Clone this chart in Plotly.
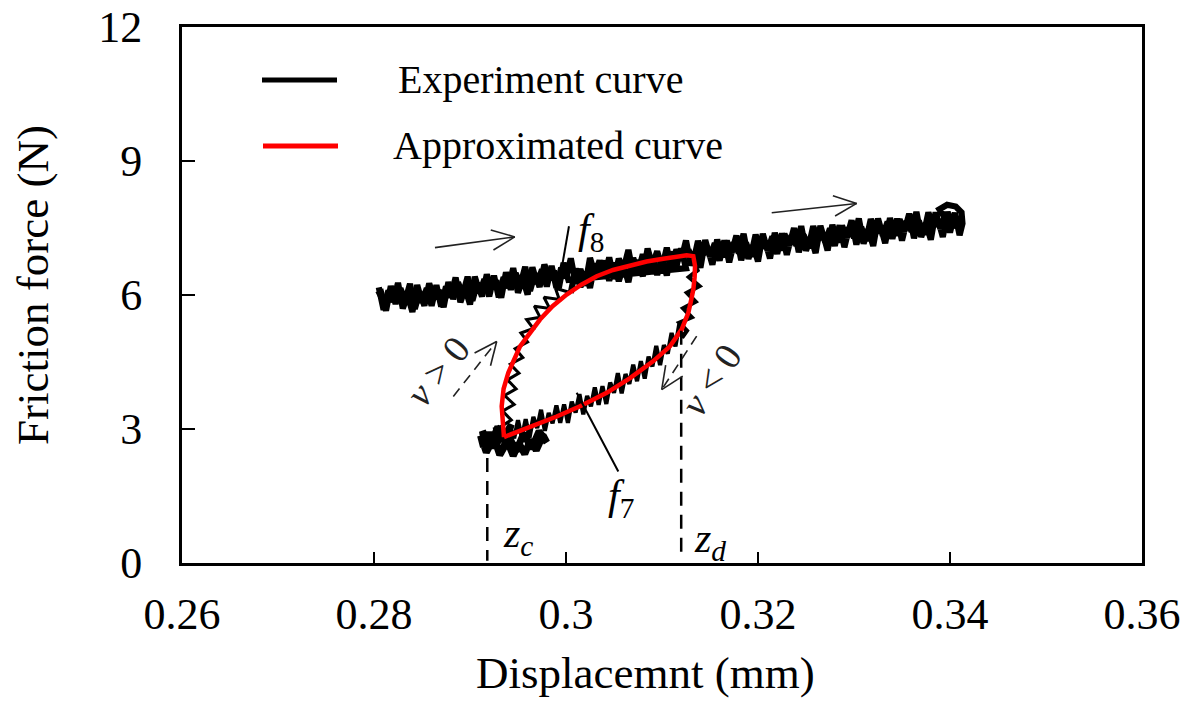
import math
import plotly.graph_objects as go

# ---------------- data ----------------
x_tick_vals = [0.26, 0.28, 0.30, 0.32, 0.34, 0.36]
x_tick_text = ["0.26", "0.28", "0.3", "0.32", "0.34", "0.36"]
y_tick_vals = [0, 3, 6, 9, 12]
y_tick_text = ["0", "3", "6", "9", "12"]

# experiment curve: upper band, outward pass (left -> right)
band_out_x = [0.2805, 0.2810, 0.2815, 0.2820, 0.2825, 0.2830, 0.2835, 0.2840, 0.2845, 0.2850, 0.2855, 0.2860,
              0.2865, 0.2870, 0.2875, 0.2880, 0.2885, 0.2890, 0.2895, 0.2900, 0.2905, 0.2910, 0.2915, 0.2920,
              0.2925, 0.2930, 0.2935, 0.2940, 0.2945, 0.2950, 0.2955, 0.2960, 0.2965, 0.2970, 0.2975, 0.2980,
              0.2985, 0.2990, 0.2995, 0.3000, 0.3005, 0.3010, 0.3015, 0.3020, 0.3025, 0.3030, 0.3035, 0.3040,
              0.3045, 0.3050, 0.3055, 0.3060, 0.3065, 0.3070, 0.3075, 0.3080, 0.3085, 0.3090, 0.3095, 0.3100,
              0.3105, 0.3110, 0.3115, 0.3120, 0.3125, 0.3130, 0.3135, 0.3140, 0.3145, 0.3150, 0.3155, 0.3160,
              0.3165, 0.3170, 0.3175, 0.3180, 0.3185, 0.3190, 0.3195, 0.3200, 0.3205, 0.3210, 0.3215, 0.3220,
              0.3225, 0.3230, 0.3235, 0.3240, 0.3245, 0.3250, 0.3255, 0.3260, 0.3265, 0.3270, 0.3275, 0.3280,
              0.3285, 0.3290, 0.3295, 0.3300, 0.3305, 0.3310, 0.3315, 0.3320, 0.3325, 0.3330, 0.3335, 0.3340,
              0.3345, 0.3350, 0.3355, 0.3360, 0.3365, 0.3370, 0.3375, 0.3380, 0.3385, 0.3390, 0.3395, 0.3400,
              0.3405, 0.3410]
band_out_y = [6.17, 5.67, 6.10, 5.85, 6.27, 5.70, 6.00, 5.62, 6.22, 5.83, 6.15, 5.76,
              6.22, 5.74, 6.19, 5.95, 6.39, 5.84, 6.15, 5.79, 6.41, 6.04, 6.35, 5.97,
              6.43, 5.95, 6.40, 6.16, 6.60, 6.05, 6.37, 6.01, 6.62, 6.25, 6.57, 6.19,
              6.65, 6.16, 6.61, 6.38, 6.82, 6.26, 6.58, 6.21, 6.83, 6.46, 6.77, 6.39,
              6.84, 6.36, 6.81, 6.58, 7.01, 6.46, 6.78, 6.42, 7.04, 6.66, 6.98, 6.60,
              7.06, 6.57, 7.02, 6.78, 7.22, 6.66, 6.98, 6.61, 7.23, 6.85, 7.16, 6.77,
              7.22, 6.73, 7.18, 6.94, 7.37, 6.81, 7.12, 6.75, 7.37, 6.99, 7.31, 6.92,
              7.38, 6.90, 7.34, 7.11, 7.54, 6.99, 7.30, 6.94, 7.55, 7.18, 7.49, 7.10,
              7.56, 7.07, 7.52, 7.28, 7.71, 7.15, 7.47, 7.10, 7.71, 7.33, 7.64, 7.26,
              7.71, 7.22, 7.66, 7.42, 7.86, 7.30, 7.61, 7.24, 7.85, 7.48, 7.79, 7.40,
              7.84, 7.34]

# small loop at the right end
end_x = [0.3413, 0.3412, 0.3406, 0.3397, 0.3389]
end_y = [7.60, 7.85, 7.98, 8.02, 7.92]

# upper band, return pass (right -> loop top)
band_back_x = [0.34025, 0.33975, 0.33925, 0.33875, 0.33825, 0.33775, 0.33725, 0.33675, 0.33625, 0.33575, 0.33525, 0.33475,
               0.33425, 0.33375, 0.33325, 0.33275, 0.33225, 0.33175, 0.33125, 0.33075, 0.33025, 0.32975, 0.32925, 0.32875,
               0.32825, 0.32775, 0.32725, 0.32675, 0.32625, 0.32575, 0.32525, 0.32475, 0.32425, 0.32375, 0.32325, 0.32275,
               0.32225, 0.32175, 0.32125, 0.32075, 0.32025, 0.31975, 0.31925, 0.31875, 0.31825, 0.31775, 0.31725, 0.31675,
               0.31625, 0.31575, 0.31525, 0.31475, 0.31425, 0.31375, 0.31325, 0.31275]
band_back_y = [7.47, 7.86, 7.30, 7.69, 7.53, 7.85, 7.35, 7.66, 7.27, 7.82, 7.43, 7.69,
               7.33, 7.72, 7.16, 7.55, 7.38, 7.70, 7.21, 7.52, 7.13, 7.67, 7.28, 7.55,
               7.18, 7.57, 7.00, 7.39, 7.23, 7.54, 7.05, 7.35, 6.96, 7.50, 7.10, 7.37,
               7.00, 7.39, 6.82, 7.20, 7.04, 7.35, 6.86, 7.17, 6.78, 7.33, 6.94, 7.21,
               6.85, 7.24, 6.68, 7.06, 6.90, 7.21, 6.72, 7.02]

# right side of the hysteresis loop (going down)
loop_right_x = [0.31275, 0.3130, 0.3137, 0.3128, 0.3139, 0.3126, 0.3135, 0.3122, 0.3131, 0.3118, 0.3126, 0.3121]
loop_right_y = [7.02, 6.85, 6.55, 6.40, 6.20, 6.05, 5.85, 5.70, 5.50, 5.38, 5.20, 5.05]

# lower branch (f7 side)
lower_x = [0.3118, 0.3114, 0.3110, 0.3106, 0.3102, 0.3098, 0.3094, 0.3090, 0.3086, 0.3082,
           0.3078, 0.3074, 0.3070, 0.3066, 0.3062, 0.3058, 0.3054, 0.3050, 0.3046, 0.3042,
           0.3038, 0.3034, 0.3030, 0.3026, 0.3022, 0.3018, 0.3014, 0.3010, 0.3006, 0.3002,
           0.2998, 0.2994, 0.2990, 0.2986, 0.2982, 0.2978, 0.2974, 0.2970, 0.2966, 0.2962,
           0.2958, 0.2954, 0.2950, 0.2946, 0.2942, 0.2938]
lower_y = [5.35, 4.85, 5.15, 4.69, 4.88, 4.43, 4.86, 4.40, 4.62, 4.13,
           4.52, 4.07, 4.44, 4.01, 4.23, 3.80, 4.25, 3.81, 4.04, 3.56,
           3.96, 3.54, 3.93, 3.51, 3.74, 3.33, 3.78, 3.37, 3.61, 3.14,
           3.55, 3.14, 3.53, 3.13, 3.36, 2.96, 3.43, 3.02, 3.27, 2.81,
           3.22, 2.80, 3.20, 2.79, 3.03, 2.62]

# dense blob at the reversal point z_c
blob_x = [0.2938, 0.2934, 0.2926, 0.2920, 0.2914, 0.2911, 0.2917, 0.2925, 0.2931, 0.2939, 0.2945, 0.2951,
          0.2957, 0.2963, 0.2969, 0.2976, 0.2980, 0.2972, 0.2964, 0.2956, 0.2948, 0.2940, 0.2932, 0.2924,
          0.2916, 0.2913, 0.2921, 0.2929, 0.2937, 0.2943, 0.2935, 0.2927, 0.2930]
blob_y = [2.62, 2.95, 2.58, 2.92, 2.60, 2.85, 2.48, 2.80, 2.42, 2.72, 2.40, 2.68,
          2.44, 2.76, 2.52, 2.86, 2.70, 2.95, 2.56, 2.90, 2.50, 2.86, 2.45, 2.80,
          2.55, 2.95, 2.62, 3.05, 2.70, 3.10, 2.80, 3.05, 2.85]

# left / upper branch (f8 side, going up)
left_x = [0.2930, 0.2932, 0.2943, 0.2934, 0.2946, 0.2936, 0.2948, 0.2939, 0.2951, 0.2942, 0.2955, 0.2947,
          0.2960, 0.2953, 0.2966, 0.2959, 0.2973, 0.2967, 0.2983, 0.2977, 0.2993, 0.2989, 0.3005]
left_y = [2.85, 3.05, 3.20, 3.40, 3.55, 3.75, 3.90, 4.10, 4.25, 4.45, 4.60, 4.80,
          4.95, 5.15, 5.25, 5.45, 5.50, 5.75, 5.70, 5.95, 5.90, 6.15, 6.05]

# lower edge of the band between loop branches
seg_a_x = [0.3005, 0.3010, 0.3015, 0.3020, 0.3025, 0.3030, 0.3035, 0.3040, 0.3045, 0.3050, 0.3055, 0.3060, 0.3065,
           0.3070, 0.3075, 0.3080, 0.3085, 0.3090, 0.3095, 0.3100, 0.3105, 0.3110, 0.3115, 0.3120, 0.3125]
seg_a_y = [6.05, 6.59, 6.18, 6.52, 6.16, 6.70, 6.37, 6.77, 6.32, 6.72, 6.31, 6.66, 6.29,
           6.83, 6.51, 6.91, 6.47, 6.86, 6.45, 6.80, 6.44, 6.97, 6.65, 7.04, 6.60]

# upper band, second pass on the left part (right -> left)
band_left_x = [0.30025, 0.29975, 0.29925, 0.29875, 0.29825, 0.29775, 0.29725, 0.29675, 0.29625, 0.29575,
               0.29525, 0.29475, 0.29425, 0.29375, 0.29325, 0.29275, 0.29225, 0.29175, 0.29125, 0.29075,
               0.29025, 0.28975, 0.28925, 0.28875, 0.28825, 0.28775, 0.28725, 0.28675, 0.28625, 0.28575,
               0.28525, 0.28475, 0.28425, 0.28375, 0.28325, 0.28275, 0.28225, 0.28175, 0.28125, 0.28075, 0.2803]
band_left_y = [6.34, 6.72, 6.15, 6.54, 6.37, 6.68, 6.18, 6.48, 6.09, 6.63,
               6.23, 6.49, 6.12, 6.51, 5.94, 6.32, 6.15, 6.46, 5.97, 6.27,
               5.87, 6.41, 6.01, 6.28, 5.91, 6.29, 5.73, 6.11, 5.94, 6.26,
               5.76, 6.07, 5.69, 6.25, 5.87, 6.15, 5.80, 6.20, 5.65, 6.05, 6.00]

# approximated (model) hysteresis curve
approx_x = [0.29354, 0.29335, 0.29330, 0.29350, 0.29399, 0.29521, 0.29620, 0.29729, 0.29860, 0.30007,
            0.30160, 0.30320, 0.30490, 0.30667, 0.30840, 0.31014, 0.31150, 0.31257, 0.31326, 0.31344,
            0.31340, 0.31326, 0.31300, 0.31274, 0.31205, 0.31083, 0.30910, 0.30667, 0.30424, 0.30146,
            0.29903, 0.29625, 0.29354]
approx_y = [2.82, 3.20, 3.51, 3.90, 4.26, 4.85, 5.15, 5.45, 5.75, 6.01,
            6.23, 6.42, 6.56, 6.66, 6.75, 6.81, 6.86, 6.89, 6.87, 6.65,
            6.40, 6.12, 5.85, 5.60, 5.23, 4.85, 4.52, 4.14, 3.81, 3.51,
            3.28, 3.06, 2.82]

# reversal displacements
z_c = 0.2918
z_d = 0.3120

# ---------------- layout constants ----------------
W, H = 1200, 702
ML, MR, MT, MB = 182, 58, 27, 139
X_RANGE = [0.26, 0.36]
Y_RANGE = [0, 12]
PW, PH = W - ML - MR, H - MT - MB
PX_PER_X = PW / (X_RANGE[1] - X_RANGE[0])
PX_PER_Y = PH / (Y_RANGE[1] - Y_RANGE[0])
FONT = "Liberation Serif, Times New Roman, serif"

fig = go.Figure()

# experiment curve, drawn piece by piece (dense band parts heavier than loop parts)
exp_pieces = [
    (band_out_x + end_x + band_back_x, band_out_y + end_y + band_back_y, 6.2),
    (loop_right_x + lower_x, loop_right_y + lower_y, 4.2),
    (blob_x, blob_y, 7.0),
    (left_x, left_y, 3.0),
    (seg_a_x + band_left_x, seg_a_y + band_left_y, 6.2),
]
for xs, ys, lw in exp_pieces:
    fig.add_trace(go.Scatter(x=xs, y=ys, mode="lines", name="Experiment curve",
                             legendgroup="exp", showlegend=False,
                             line=dict(color="black", width=lw)))

fig.add_trace(go.Scatter(x=approx_x, y=approx_y, mode="lines", name="Approximated curve",
                         line=dict(color="#ff0000", width=4.5), showlegend=False))

shapes = []
# dashed reversal lines
shapes.append(dict(type="line", xref="x", yref="y", x0=z_c, x1=z_c, y0=2.35, y1=0.05,
                   line=dict(color="black", width=2.5, dash="14px,9px")))
shapes.append(dict(type="line", xref="x", yref="y", x0=z_d, x1=z_d, y0=5.2, y1=0.05,
                   line=dict(color="black", width=2.5, dash="14px,9px")))
# pointer lines for f8 and f7
shapes.append(dict(type="line", xref="x", yref="y", x0=0.30031, y0=7.54, x1=0.29953, y1=6.57,
                   line=dict(color="black", width=2)))
shapes.append(dict(type="line", xref="x", yref="y", x0=0.30111, y0=3.81, x1=0.30545, y1=2.05,
                   line=dict(color="black", width=2)))

# direction arrows: (tail x, tail y, head x, head y, dashed)
arrows = [
    (0.28635, 7.06, 0.29466, 7.30, False),
    (0.32143, 7.84, 0.33028, 8.05, False),
    (0.28826, 3.73, 0.29278, 4.96, True),
    (0.31361, 5.08, 0.30997, 3.88, True),
]
ARM_LEN, ARM_ANG = 25, math.radians(24)
for tx, ty, hx, hy, dashed in arrows:
    shapes.append(dict(type="line", xref="x", yref="y", x0=tx, y0=ty, x1=hx, y1=hy,
                       line=dict(color="#222", width=1.6, dash="10px,7px" if dashed else "solid")))
    dx = (hx - tx) * PX_PER_X
    dy = (hy - ty) * PX_PER_Y
    n = math.hypot(dx, dy)
    bx, by = -dx / n, -dy / n
    for s in (1, -1):
        a = s * ARM_ANG
        rx = bx * math.cos(a) - by * math.sin(a)
        ry = bx * math.sin(a) + by * math.cos(a)
        shapes.append(dict(type="line", xref="x", yref="y", x0=hx, y0=hy,
                           x1=hx + rx * ARM_LEN / PX_PER_X, y1=hy + ry * ARM_LEN / PX_PER_Y,
                           line=dict(color="#222", width=1.6)))


def px_to_paper_x(px):
    return (px - ML) / PW


def px_to_paper_y(py):
    return (H - MB - py) / PH


# manual legend
shapes.append(dict(type="line", xref="paper", yref="paper",
                   x0=px_to_paper_x(262), x1=px_to_paper_x(337),
                   y0=px_to_paper_y(80), y1=px_to_paper_y(80),
                   line=dict(color="black", width=5)))
shapes.append(dict(type="line", xref="paper", yref="paper",
                   x0=px_to_paper_x(263), x1=px_to_paper_x(338),
                   y0=px_to_paper_y(146), y1=px_to_paper_y(146),
                   line=dict(color="#ff0000", width=5)))

annotations = [
    dict(text="Experiment curve", xref="paper", yref="paper", x=px_to_paper_x(396), y=px_to_paper_y(80),
         xanchor="left", yanchor="middle", showarrow=False, font=dict(family=FONT, size=40, color="black")),
    dict(text="Approximated curve", xref="paper", yref="paper", x=px_to_paper_x(391), y=px_to_paper_y(146),
         xanchor="left", yanchor="middle", showarrow=False, font=dict(family=FONT, size=40, color="black")),
    dict(text="Displacemnt (mm)", xref="paper", yref="paper", x=px_to_paper_x(645), y=px_to_paper_y(673),
         xanchor="center", yanchor="middle", showarrow=False, font=dict(family=FONT, size=45, color="black")),
    dict(text="Friction force (N)", xref="paper", yref="paper", x=px_to_paper_x(33), y=px_to_paper_y(285),
         xanchor="center", yanchor="middle", textangle=-90, showarrow=False,
         font=dict(family=FONT, size=45, color="black")),
    dict(text="<i>f</i><sub>8</sub>", xref="x", yref="y", x=0.3026, y=7.42, showarrow=False,
         xanchor="center", yanchor="middle", font=dict(family=FONT, size=42, color="black")),
    dict(text="<i>f</i><sub>7</sub>", xref="x", yref="y", x=0.3057, y=1.45, showarrow=False,
         xanchor="center", yanchor="middle", font=dict(family=FONT, size=42, color="black")),
    dict(text="<i>z</i><sub><i>c</i></sub>", xref="x", yref="y", x=0.29320, y=0.60, showarrow=False,
         xanchor="left", yanchor="middle", font=dict(family=FONT, size=42, color="black")),
    dict(text="<i>z</i><sub><i>d</i></sub>", xref="x", yref="y", x=0.31315, y=0.50, showarrow=False,
         xanchor="left", yanchor="middle", font=dict(family=FONT, size=42, color="black")),
    dict(text="<i>v</i> > 0", xref="x", yref="y", x=0.2867, y=4.29, showarrow=False, textangle=-51,
         xanchor="center", yanchor="middle", font=dict(family=FONT, size=38, color="#222")),
    dict(text="<i>v</i> < 0", xref="x", yref="y", x=0.3151, y=4.10, showarrow=False, textangle=-56,
         xanchor="center", yanchor="middle", font=dict(family=FONT, size=38, color="#222")),
]

axis_common = dict(showgrid=False, zeroline=False, showline=True, linecolor="black", linewidth=3,
                   mirror=True, ticks="inside", tickcolor="black", tickwidth=1.5, automargin=False,
                   tickfont=dict(family=FONT, size=44, color="black"))

fig.update_layout(
    width=W, height=H, autosize=False,
    margin=dict(l=ML, r=MR, t=MT, b=MB, pad=0, autoexpand=False),
    paper_bgcolor="white", plot_bgcolor="white",
    showlegend=False,
    shapes=shapes, annotations=annotations,
    xaxis=dict(range=X_RANGE, tickvals=x_tick_vals, ticktext=x_tick_text, ticklen=11,
               ticklabelstandoff=10, **axis_common),
    yaxis=dict(range=Y_RANGE, tickvals=y_tick_vals, ticktext=y_tick_text, ticklen=13,
               ticklabelstandoff=28, **axis_common),
)

fig.write_html("out.html")
